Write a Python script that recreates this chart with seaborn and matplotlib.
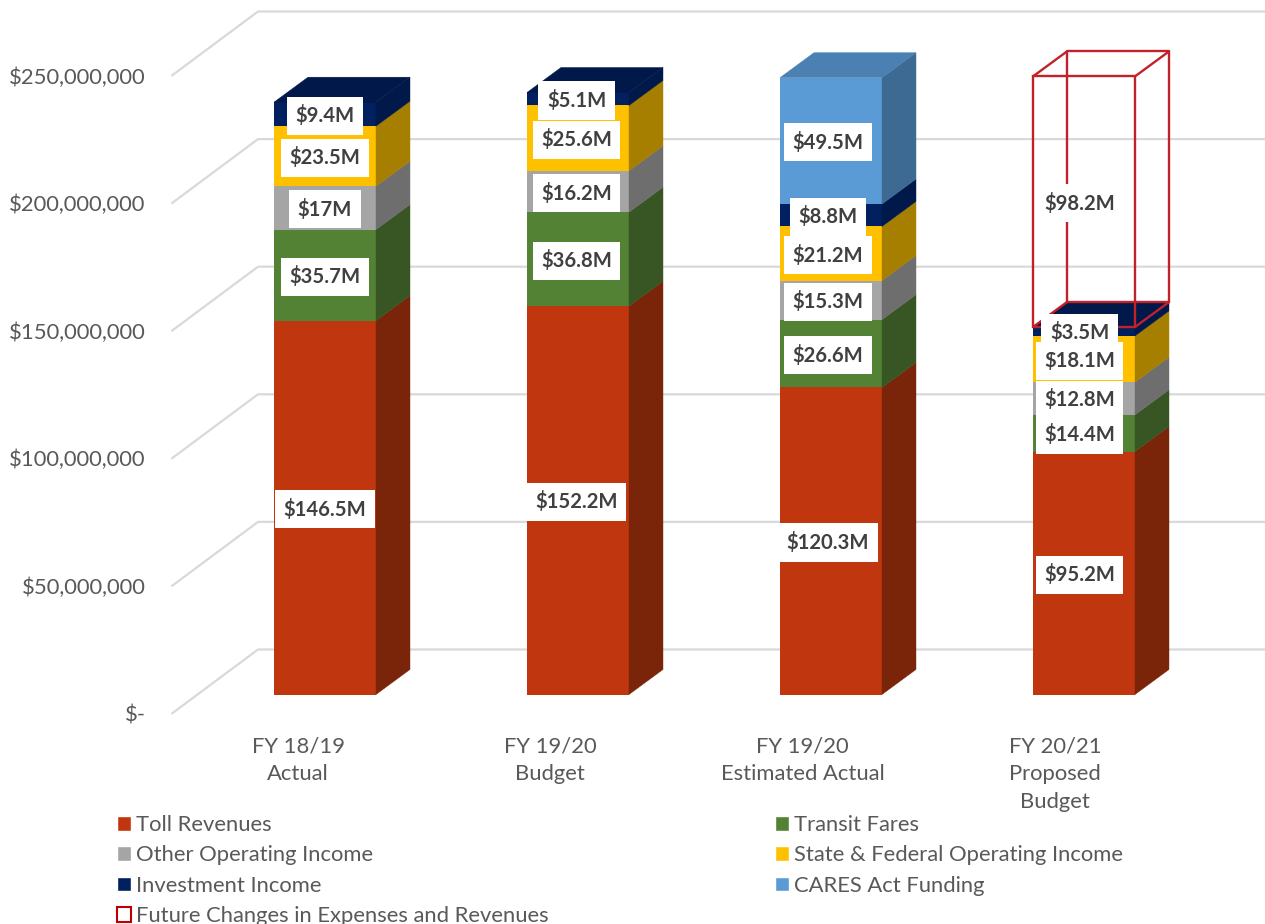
import numpy as np
import matplotlib
matplotlib.use("Agg")
import matplotlib.pyplot as plt
from matplotlib.patches import Patch, Polygon
from matplotlib.ticker import FuncFormatter
import seaborn as sns

categories = ["FY 18/19\nActual", "FY 19/20\nBudget", "FY 19/20\nEstimated Actual", "FY 20/21\nProposed\nBudget"]
toll = [146.5, 152.2, 120.3, 95.2]
transit = [35.7, 36.8, 26.6, 14.4]
other = [17.0, 16.2, 15.3, 12.8]
state = [23.5, 25.6, 21.2, 18.1]
invest = [9.4, 5.1, 8.8, 3.5]
cares = [0, 0, 49.5, 0]
future = [0, 0, 0, 98.2]
y_ticks = [0, 50, 100, 150, 200, 250]

series = [("Toll Revenues", toll, "#C0370F", "#7A2409"),
          ("Transit Fares", transit, "#548235", "#375623"),
          ("Other Operating Income", other, "#A5A5A5", "#6E6E6E"),
          ("State & Federal Operating Income", state, "#FFC000", "#A67F00"),
          ("Investment Income", invest, "#002060", "#00184A"),
          ("CARES Act Funding", cares, "#5B9BD5", "#3D6A93")]
RED = "#C1222A"
TXT = "#595959"
LBL = "#404040"

sns.set_theme(style="white")
plt.rcParams["font.family"] = ["Lato", "DejaVu Sans"]
W, H = 1265, 924
FLOOR = 713.5
fig = plt.figure(figsize=(W / 100, H / 100), dpi=100)
ax = fig.add_axes([172 / W, (H - FLOOR) / H, (W - 172) / W, FLOOR / H])

PX_X = 253.0            # pixels per category
PX_Y = 2.552            # pixels per $M
lift = 19 / PX_Y        # floor offset of bar front plane
bdx, bdy = 34 / PX_X, 25 / PX_Y   # bar depth
gdx, gdy = 86 / PX_X, 64 / PX_Y   # wall depth
bw = 102 / PX_X
xlim = (-153 / PX_X, (1265 - 325) / PX_X)

# walls / gridlines
for v in y_ticks:
    ax.plot([xlim[0], xlim[0] + gdx, xlim[1]], [v, v + gdy, v + gdy],
            color="#D9D9D9", lw=1.6, zorder=1, solid_joinstyle="miter", clip_on=False)

xs = np.arange(len(categories))
bottom = np.zeros(len(categories)) + lift
labels = []
for name, vals, col, side in series:
    vals = np.array(vals, float)
    keep = vals > 0
    sns.barplot(x=[c for c, k in zip(categories, keep) if k], y=vals[keep], bottom=bottom[keep],
                order=categories, color=col, saturation=1,
                width=bw, errorbar=None, ax=ax, zorder=3, linewidth=0)
    for x, v, b in zip(xs, vals, bottom):
        if v <= 0:
            continue
        r = x + bw / 2
        ax.add_patch(Polygon([(r, b), (r + bdx, b + bdy), (r + bdx, b + v + bdy), (r, b + v)],
                             closed=True, fc=side, ec=side, lw=0.3, zorder=3))
        labels.append((x, b + v / 2, v))
    bottom = bottom + vals

# top faces of the solid stack
solid_top = bottom
for x, t in zip(xs, solid_top):
    c = "#4A80B2" if cares[x] > 0 else "#00184A"
    l, r = x - bw / 2, x + bw / 2
    ax.add_patch(Polygon([(l, t), (l + bdx, t + bdy), (r + bdx, t + bdy), (r, t)],
                         closed=True, fc=c, ec=c, lw=0.3, zorder=3))

# wireframe series
fv = np.array(future, float)
fk = fv > 0
sns.barplot(x=[c for c, k in zip(categories, fk) if k], y=fv[fk], bottom=solid_top[fk],
            order=categories, fill=False, color=RED, saturation=1,
            width=bw, errorbar=None, ax=ax, zorder=4, linewidth=1.7)
for x, v, b in zip(xs, fv, solid_top):
    if v <= 0:
        continue
    l, r, t = x - bw / 2, x + bw / 2, b + v
    for seg in ([(l + bdx, b + bdy), (l + bdx, t + bdy), (r + bdx, t + bdy), (r + bdx, b + bdy), (l + bdx, b + bdy)],
                [(l, t), (l + bdx, t + bdy)], [(r, t), (r + bdx, t + bdy)],
                [(l, b), (l + bdx, b + bdy)], [(r, b), (r + bdx, b + bdy)]):
        a = np.array(seg)
        ax.plot(a[:, 0], a[:, 1], color=RED, lw=1.7, zorder=4)
    labels.append((x, b + v / 2, v))

for x, y, v in labels:
    ax.text(x - 1.5 * x / PX_X, y - 1.5 / PX_Y, f"\\${v:g}M", ha="center", va="center", fontsize=14.6,
            fontweight="bold", color=LBL, zorder=6,
            bbox=dict(boxstyle="square,pad=0.42", fc="white", ec="none"))

ax.set_xlim(*xlim)
ax.set_ylim(0, FLOOR / PX_Y)
ax.set_yticks(y_ticks)
ax.yaxis.set_major_formatter(FuncFormatter(lambda v, _: "\\$-" if v == 0 else f"\\${v * 1e6:,.0f}"))
ax.set_xticks(xs - (27 + 0.7 * xs) / PX_X, categories)
ax.set_xlabel("")
ax.set_ylabel("")
ax.tick_params(axis="y", length=0, pad=19, labelsize=15.8, labelcolor=TXT)
ax.tick_params(axis="x", length=0, pad=16.5, labelsize=15.8, labelcolor=TXT)
for t in ax.get_xticklabels():
    t.set_linespacing(1.5)
sns.despine(ax=ax, left=True, bottom=True, top=True, right=True)
ax.patch.set_alpha(0)

handles = [Patch(fc=series[0][2], label=series[0][0]),
           Patch(fc=series[2][2], label=series[2][0]),
           Patch(fc=series[4][2], label=series[4][0]),
           Patch(fc="white", ec="#C00000", lw=1.5, label="Future Changes in Expenses and Revenues"),
           Patch(fc=series[1][2], label=series[1][0]),
           Patch(fc=series[3][2], label=series[3][0]),
           Patch(fc=series[5][2], label=series[5][0])]
fig.legend(handles=handles, ncol=2, loc="upper left", bbox_to_anchor=(117 / W, (H - 815) / H),
           frameon=False, fontsize=15.8, labelcolor=TXT, borderpad=0, borderaxespad=0,
           handlelength=0.66, handleheight=0.66, handletextpad=0.2, labelspacing=0.47, columnspacing=10.32)

fig.savefig("out.png", dpi=100)
